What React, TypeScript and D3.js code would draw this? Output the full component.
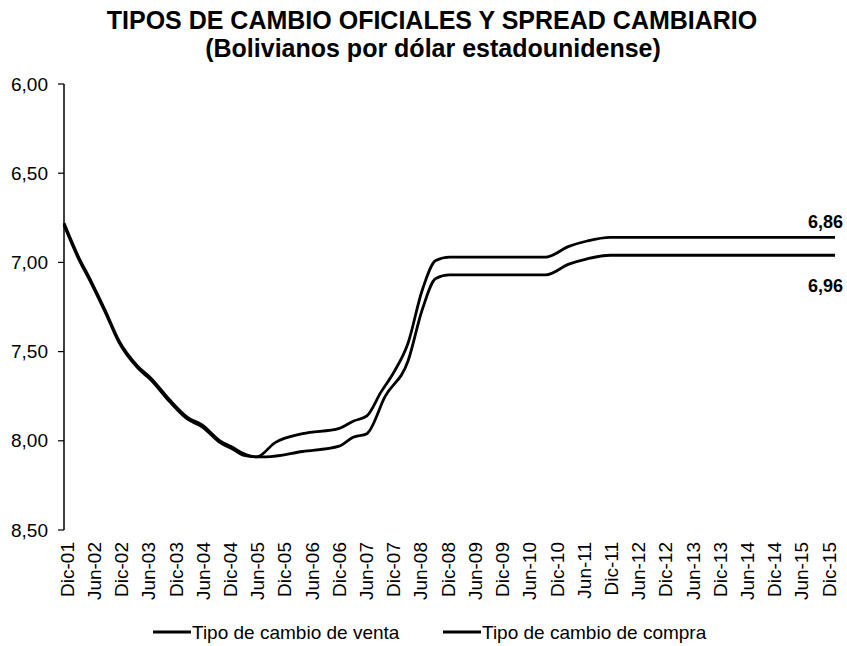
import { useEffect, useRef } from 'react'
import * as d3 from 'd3'

// etiquetas semestrales del eje x (mes 0 = Dic-01, cada 6 meses)
const etiquetas = [
  'Dic-01', 'Jun-02', 'Dic-02', 'Jun-03', 'Dic-03', 'Jun-04', 'Dic-04', 'Jun-05',
  'Dic-05', 'Jun-06', 'Dic-06', 'Jun-07', 'Dic-07', 'Jun-08', 'Dic-08', 'Jun-09',
  'Dic-09', 'Jun-10', 'Dic-10', 'Jun-11', 'Dic-11', 'Jun-12', 'Dic-12', 'Jun-13',
  'Dic-13', 'Jun-14', 'Dic-14', 'Jun-15', 'Dic-15',
]
const ticksY = [6, 6.5, 7, 7.5, 8, 8.5]

// meses desde Dic-01 y valor
const compraMes = [0, 3, 6, 9, 12, 16, 19, 23, 27, 30, 34, 37, 39, 42, 46, 52, 60, 63, 66, 69, 72, 75, 78, 81, 84, 105, 110, 114, 119, 168]
const compraValor = [6.78, 6.96, 7.11, 7.27, 7.44, 7.58, 7.65, 7.77, 7.87, 7.91, 8.0, 8.04, 8.07, 8.09, 8.01, 7.96, 7.93, 7.89, 7.86, 7.73, 7.61, 7.45, 7.16, 6.99, 6.97, 6.97, 6.91, 6.88, 6.86, 6.86]

const ventaMes = [0, 3, 6, 9, 12, 16, 19, 23, 27, 30, 34, 37, 39, 42, 44, 52, 60, 63, 66, 70, 75, 78, 81, 84, 105, 110, 114, 119, 168]
const ventaValor = [6.79, 6.97, 7.12, 7.28, 7.45, 7.59, 7.66, 7.78, 7.88, 7.92, 8.01, 8.05, 8.08, 8.09, 8.09, 8.06, 8.03, 7.98, 7.96, 7.75, 7.55, 7.27, 7.09, 7.07, 7.07, 7.01, 6.98, 6.96, 6.96]

const fuente = "'Liberation Sans', Arial, sans-serif"

export default function App() {
  const ref = useRef<SVGSVGElement>(null)

  useEffect(() => {
    const svg = d3.select(ref.current)
    svg.selectAll('*').remove()

    const x = d3.scaleLinear().domain([0, 168]).range([64, 835])
    const y = d3.scaleLinear().domain([6, 8.5]).range([84, 530])
    const xEtiq = d3.scalePoint().domain(etiquetas).range([67, 829])
    const coma = (v: number) => d3.format('.2f')(v).replace('.', ',')

    svg.append('rect').attr('width', 847).attr('height', 646).attr('fill', '#fff')

    svg
      .append('text')
      .attr('x', 432)
      .attr('y', 29)
      .attr('text-anchor', 'middle')
      .style('font-family', fuente)
      .style('font-weight', 700)
      .style('font-size', '25px')
      .text('TIPOS DE CAMBIO OFICIALES Y SPREAD CAMBIARIO')

    svg
      .append('text')
      .attr('x', 433)
      .attr('y', 57)
      .attr('text-anchor', 'middle')
      .style('font-family', fuente)
      .style('font-weight', 700)
      .style('font-size', '25px')
      .text('(Bolivianos por dólar estadounidense)')

    // eje y
    const ejeY = svg.append('g')
    ejeY
      .append('line')
      .attr('x1', 64)
      .attr('x2', 64)
      .attr('y1', y(6))
      .attr('y2', y(8.5))
      .attr('stroke', '#000')
      .attr('stroke-width', 1.5)
    ejeY
      .selectAll('line.tick')
      .data(ticksY)
      .enter()
      .append('line')
      .attr('class', 'tick')
      .attr('x1', 58)
      .attr('x2', 64)
      .attr('y1', (d) => y(d))
      .attr('y2', (d) => y(d))
      .attr('stroke', '#000')
      .attr('stroke-width', 1.2)
    ejeY
      .selectAll('text')
      .data(ticksY)
      .enter()
      .append('text')
      .attr('x', 48)
      .attr('y', (d) => y(d))
      .attr('dy', '0.35em')
      .attr('text-anchor', 'end')
      .style('font-family', fuente)
      .style('font-size', '19px')
      .text((d) => coma(d))

    // etiquetas eje x
    svg
      .append('g')
      .selectAll('text')
      .data(etiquetas)
      .enter()
      .append('text')
      .attr('transform', (d) => `translate(${xEtiq(d)},542) rotate(-90)`)
      .attr('dy', '0.35em')
      .attr('text-anchor', 'end')
      .style('font-family', fuente)
      .style('font-size', '19px')
      .text((d) => d)

    const dibujar = (meses: number[], valores: number[]) => {
      const pts: [number, number][] = meses.map((m, i) => [x(m), y(valores[i])])
      svg
        .append('path')
        .attr('d', d3.line().curve(d3.curveMonotoneX)(pts))
        .attr('fill', 'none')
        .attr('stroke', '#000')
        .attr('stroke-width', 2.8)
        .attr('stroke-linejoin', 'round')
    }
    dibujar(ventaMes, ventaValor)
    dibujar(compraMes, compraValor)

    // etiquetas de los ultimos valores
    const ultimaCompra = compraValor[compraValor.length - 1]
    const ultimaVenta = ventaValor[ventaValor.length - 1]
    svg
      .append('text')
      .attr('x', 843)
      .attr('y', y(ultimaCompra) - 9)
      .attr('text-anchor', 'end')
      .style('font-family', fuente)
      .style('font-weight', 700)
      .style('font-size', '18px')
      .text(coma(ultimaCompra))
    svg
      .append('text')
      .attr('x', 843)
      .attr('y', y(ultimaVenta) + 37)
      .attr('text-anchor', 'end')
      .style('font-family', fuente)
      .style('font-weight', 700)
      .style('font-size', '18px')
      .text(coma(ultimaVenta))

    // leyenda
    const leyenda = [
      { nombre: 'Tipo de cambio de venta', x: 153 },
      { nombre: 'Tipo de cambio de compra', x: 443 },
    ]
    const items = svg
      .append('g')
      .selectAll('g')
      .data(leyenda)
      .enter()
      .append('g')
      .attr('transform', (d) => `translate(${d.x},632)`)
    items
      .append('line')
      .attr('x1', 0)
      .attr('x2', 38)
      .attr('stroke', '#000')
      .attr('stroke-width', 2.8)
    items
      .append('text')
      .attr('x', 39)
      .attr('dy', '0.35em')
      .style('font-family', fuente)
      .style('font-size', '19px')
      .text((d) => d.nombre)
  }, [])

  return (
    <svg
      ref={ref}
      width={847}
      height={646}
      style={{ position: 'absolute', left: 0, top: 0, display: 'block' }}
    />
  )
}
